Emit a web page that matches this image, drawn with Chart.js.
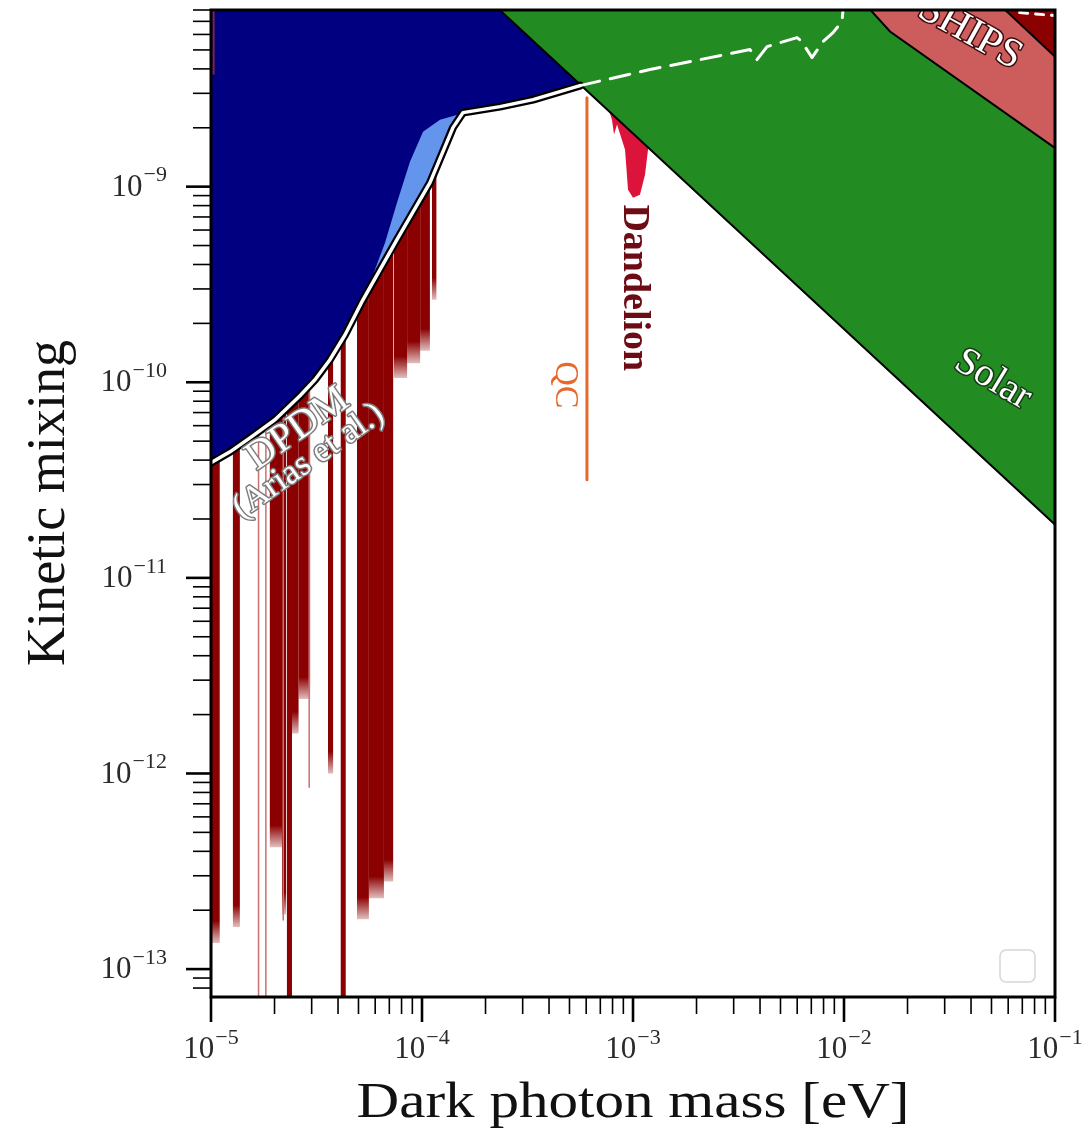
<!DOCTYPE html>
<html>
<head>
<meta charset="utf-8">
<title>Dark photon limits</title>
<script src="https://cdn.jsdelivr.net/npm/chart.js@4.4.1/dist/chart.umd.min.js"></script>
<style>
  html, body { margin: 0; padding: 0; background: #fff; }
  #chart { display: block; }
</style>
</head>
<body>
<canvas id="chart" width="1092" height="1128"></canvas>
<script>
// axis ranges (eV, dimensionless)
var massRange = [1e-5, 1e-1];
var mixingRange = [7.2e-14, 8.0e-9];
var massDecades = [-5, -4, -3, -2, -1];
var mixingDecades = [-13, -12, -11, -10, -9];

// DPDM relic bound (Arias et al.)
var dpdmMass   = [1e-5, 1.23e-5, 1.53e-5, 2.01e-5, 2.64e-5, 3.11e-5, 3.66e-5, 4.32e-5, 5.25e-5, 7.61e-5, 1.091e-4, 1.402e-4, 1.564e-4, 2.343e-4, 3.36e-4, 5.61e-4];
var dpdmMixing = [3.88e-11, 4.41e-11, 5.20e-11, 6.43e-11, 8.53e-11, 1.03e-10, 1.303e-10, 1.75e-10, 2.64e-10, 5.36e-10, 1.048e-9, 2.003e-9, 2.39e-9, 2.565e-9, 2.786e-9, 3.285e-9];

// dashed continuation of the DPDM bound
var dashMass   = [5.61e-4, 1.204e-3, 2.077e-3, 3.585e-3, 3.87e-3, 4.32e-3, 5.99e-3, 6.32e-3, 7.05e-3, 7.95e-3, 8.87e-3, 9.78e-3, 1.0e-2];
var dashMixing = [3.285e-9, 3.97e-9, 4.46e-9, 5.02e-9, 4.46e-9, 5.20e-9, 5.78e-9, 5.51e-9, 4.57e-9, 5.51e-9, 6.13e-9, 6.98e-9, 9.0e-9];
var dashTailMass   = [6.8e-2, 1.0e-1];
var dashTailMixing = [7.76e-9, 7.49e-9];

// extra DPDM sliver (light blue)
var sliverMass   = [5.86e-5, 6.68e-5, 7.61e-5, 8.77e-5, 1.011e-4, 1.217e-4, 1.434e-4, 1.564e-4, 1.402e-4, 1.091e-4, 7.61e-5, 5.86e-5];
var sliverMixing = [3.55e-10, 5.17e-10, 8.28e-10, 1.342e-9, 1.911e-9, 2.20e-9, 2.31e-9, 2.39e-9, 2.003e-9, 1.048e-9, 5.36e-10, 3.15e-10];

// solar emission bound, SHIPS and the top corner bound
var solarMass   = [0.2, 1.967e-4, 0.1634];
var solarMixing = [1e-7, 9.5e-9, 1.144e-11];
var shipsMass   = [0.2, 1.204e-2, 1.652e-2, 0.1634];
var shipsMixing = [1e-7, 9.05e-9, 6.21e-9, 1.086e-9];
var cornerMass   = [0.2, 5.14e-2, 0.1634];
var cornerMixing = [1e-7, 9.05e-9, 2.82e-9];

// Dandelion
var dandelionMass   = [7.29e-4, 7.95e-4, 8.13e-4, 8.40e-4, 8.49e-4, 9.17e-4, 9.47e-4, 1.0e-3, 1.079e-3, 1.14e-3, 1.178e-3, 1.23e-3];
var dandelionMixing = [2.95e-9, 2.2e-9, 1.845e-9, 2.08e-9, 2.08e-9, 1.546e-9, 9.65e-10, 8.78e-10, 9.1e-10, 1.152e-9, 1.546e-9, 2.48e-9];

// QC line
var qcMass   = [6.05e-4, 6.05e-4];
var qcMixing = [2.85e-9, 3.17e-11];

// haloscope exclusions: mass window and lowest excluded mixing
var haloLo    = [1.00e-5, 1.27e-5, 1.90e-5, 2.17e-5, 2.29e-5, 2.42e-5, 2.60e-5, 3.585e-5, 4.12e-5, 4.92e-5, 5.60e-5, 6.60e-5, 7.35e-5, 8.50e-5, 9.80e-5, 1.115e-4];
var haloHi    = [1.10e-5, 1.37e-5, 2.17e-5, 2.27e-5, 2.42e-5, 2.60e-5, 2.95e-5, 3.79e-5, 4.35e-5, 5.60e-5, 6.60e-5, 7.30e-5, 8.50e-5, 9.80e-5, 1.09e-4, 1.17e-4];
var haloFloor = [1.36e-13, 1.64e-13, 4.2e-13, 1.9e-13, 1e-14, 1.6e-12, 2.4e-12, 1.0e-12, 1e-14, 1.8e-13, 2.3e-13, 2.8e-13, 1.05e-10, 1.25e-10, 1.45e-10, 2.64e-10];
var faintMass  = [1.68e-5, 1.82e-5, 2.20e-5, 2.92e-5];
var faintFloor = [1e-14, 1e-14, 1.78e-13, 8.5e-13];
var cornerHaloLo = [1.015e-5], cornerHaloHi = [1.04e-5], cornerHaloFloor = [3.74e-9];

var SKY = 1e-8;

var regionLabels = [
  {text: 'SHIPS', mass: 3.96e-2, mixing: 6.1e-9, angle: 29, font: '41px "Liberation Serif"', fill: '#fff', stroke: '#3c0c0c'},
  {text: 'Solar', mass: 5.08e-2, mixing: 1.03e-10, angle: 31, font: '39px "Liberation Serif"', fill: '#fff', stroke: '#173a17'},
  {text: 'DPDM', mass: 2.58e-5, mixing: 5.78e-11, angle: -35, font: '40px "Liberation Serif"', fill: '#fff', stroke: '#7d7d7d'},
  {text: '(Arias et al.)', mass: 2.9e-5, mixing: 3.95e-11, angle: -35, font: '35px "Liberation Serif"', fill: '#fff', stroke: '#7d7d7d'},
  {text: 'QC', mass: 4.76e-4, mixing: 9.71e-11, angle: 90, font: '34px "Liberation Serif"', fill: '#e4692b'},
  {text: 'Dandelion', mass: 1.011e-3, mixing: 3.04e-10, angle: 90, font: 'bold 38px "Liberation Serif"', fill: '#6e0c16'}
];

function xy(xs, ys) {
  return xs.map(function (x, i) { return {x: x, y: ys[i]}; });
}

function band(lo, hi, floor) {
  return [{x: lo, y: SKY}, {x: hi, y: SKY}, {x: hi, y: floor}, {x: lo, y: floor}];
}

// dark red that thins out over the last few pixels above the floor
function fadeTo(floor) {
  return function (c) {
    var chart = c.chart;
    if (!chart.chartArea) return '#8b0000';
    var y = chart.scales.y.getPixelForValue(floor);
    var g = chart.ctx.createLinearGradient(0, y - 22, 0, y);
    g.addColorStop(0, 'rgba(139,0,0,1)');
    g.addColorStop(1, 'rgba(139,0,0,0.25)');
    return g;
  };
}

function area(data, color, order, edge) {
  return {
    data: data, fill: 'shape', backgroundColor: color,
    borderColor: edge || 'rgba(0,0,0,0)', borderWidth: edge ? 2 : 0,
    pointRadius: 0, order: order, clip: 0
  };
}

function curve(data, color, width, order, dash) {
  return {
    data: data, fill: false, borderColor: color, borderWidth: width,
    borderDash: dash || [], borderCapStyle: 'round', borderJoinStyle: 'round',
    pointRadius: 0, order: order, clip: 0
  };
}

var datasets = [];

// haloscope bands sit at the back, the DPDM region covers their tops
haloLo.forEach(function (lo, i) {
  datasets.push(area(band(lo, haloHi[i], haloFloor[i]), fadeTo(haloFloor[i]), 90));
});
faintMass.forEach(function (m, i) {
  datasets.push(curve([{x: m, y: SKY}, {x: m, y: faintFloor[i]}], '#c77272', 1.5, 89));
});

var dpdmFill = curve(xy(dpdmMass, dpdmMixing), 'rgba(0,0,0,0)', 0, 80);
dpdmFill.fill = 'end';
dpdmFill.backgroundColor = '#000080';
datasets.push(dpdmFill);

cornerHaloLo.forEach(function (lo, i) {
  datasets.push(area(band(lo, cornerHaloHi[i], cornerHaloFloor[i]), 'rgba(170,50,50,0.75)', 75));
});

datasets.push(area(xy(sliverMass, sliverMixing), '#6495ed', 70));
datasets.push(area(xy(dandelionMass, dandelionMixing), '#dc143c', 65));
datasets.push(curve(xy(qcMass, qcMixing), '#e4692b', 3, 64));
datasets.push(area(xy(solarMass, solarMixing), '#228b22', 60, '#000'));
datasets.push(area(xy(shipsMass, shipsMixing), '#cd5c5c', 55, '#000'));
datasets.push(area(xy(cornerMass, cornerMixing), '#8b0000', 50, '#000'));

// DPDM bound: white line with a black casing, dashed beyond the solar bound
datasets.push(curve(xy(dpdmMass, dpdmMixing), '#000', 8, 40));
datasets.push(curve(xy(dpdmMass, dpdmMixing), '#fff', 3.5, 39));
datasets.push(curve(xy(dashMass, dashMixing), '#fff', 3, 38, [20, 11]));
datasets.push(curve(xy(dashTailMass, dashTailMixing), '#fff', 3, 38, [8, 8]));

function drawPower(ctx, exp, x, y, align) {
  // "10" with a raised exponent
  var base = '10', sup = '\u2212' + Math.abs(exp);
  ctx.font = '31px "Liberation Serif"';
  var wb = ctx.measureText(base).width;
  ctx.font = '22px "Liberation Serif"';
  var ws = ctx.measureText(sup).width;
  var left = align === 'right' ? x - wb - ws - 1 : x - (wb + ws + 1) / 2;
  ctx.textAlign = 'left';
  ctx.textBaseline = 'middle';
  ctx.font = '31px "Liberation Serif"';
  ctx.fillText(base, left, y);
  ctx.font = '22px "Liberation Serif"';
  ctx.fillText(sup, left + wb + 1, y - 12);
}

function outlinedText(ctx, item, x, y) {
  ctx.save();
  ctx.translate(x, y);
  ctx.rotate(item.angle * Math.PI / 180);
  ctx.font = item.font;
  ctx.textAlign = 'center';
  ctx.textBaseline = 'middle';
  if (item.stroke) {
    ctx.lineWidth = 3;
    ctx.lineJoin = 'round';
    ctx.strokeStyle = item.stroke;
    ctx.strokeText(item.text, 0, 0);
  }
  ctx.fillStyle = item.fill;
  ctx.fillText(item.text, 0, 0);
  ctx.restore();
}

function fitText(ctx, text, x, y, width) {
  var w = ctx.measureText(text).width;
  ctx.save();
  ctx.translate(x, y);
  ctx.scale(width / w, 1);
  ctx.fillText(text, 0, 0);
  ctx.restore();
}

function logTicks(decades, min, max) {
  var out = [];
  decades.concat([decades[0] - 1]).forEach(function (e) {
    for (var k = 1; k <= 9; k++) {
      var v = k * Math.pow(10, e);
      if (v >= min * 0.9999 && v <= max * 1.0001) out.push({value: v, major: k === 1});
    }
  });
  return out;
}

var frame = {
  id: 'frame',
  afterDatasetsDraw: function (chart) {
    var ctx = chart.ctx, a = chart.chartArea;
    var sx = chart.scales.x, sy = chart.scales.y;

    ctx.save();
    ctx.beginPath();
    ctx.rect(a.left, a.top, a.right - a.left, a.bottom - a.top);
    ctx.clip();
    regionLabels.forEach(function (l) {
      outlinedText(ctx, l, sx.getPixelForValue(l.mass), sy.getPixelForValue(l.mixing));
    });
    ctx.restore();

    ctx.save();
    ctx.strokeStyle = '#000';
    ctx.lineCap = 'butt';

    logTicks(massDecades, massRange[0], massRange[1]).forEach(function (t) {
      var px = sx.getPixelForValue(t.value);
      ctx.lineWidth = t.major ? 2.6 : 1.6;
      ctx.beginPath();
      ctx.moveTo(px, a.bottom);
      ctx.lineTo(px, a.bottom + (t.major ? 25 : 17));
      ctx.stroke();
    });
    logTicks(mixingDecades, mixingRange[0], mixingRange[1]).forEach(function (t) {
      var py = sy.getPixelForValue(t.value);
      ctx.lineWidth = t.major ? 2.6 : 1.6;
      ctx.beginPath();
      ctx.moveTo(a.left, py);
      ctx.lineTo(a.left - (t.major ? 25 : 18), py);
      ctx.stroke();
    });

    ctx.lineWidth = 3;
    ctx.strokeRect(a.left, a.top, a.right - a.left, a.bottom - a.top);

    ctx.fillStyle = '#2a2a2a';
    massDecades.forEach(function (e) {
      drawPower(ctx, e, sx.getPixelForValue(Math.pow(10, e)), a.bottom + 53, 'center');
    });
    mixingDecades.forEach(function (e) {
      drawPower(ctx, e, a.left - 44, sy.getPixelForValue(Math.pow(10, e)) + 1, 'right');
    });

    ctx.fillStyle = '#111';
    ctx.textAlign = 'center';
    ctx.textBaseline = 'alphabetic';
    ctx.font = '50px "Liberation Serif"';
    fitText(ctx, 'Dark photon mass [eV]', (a.left + a.right) / 2, 1117, 553);
    ctx.save();
    ctx.translate(64, 503);
    ctx.rotate(-Math.PI / 2);
    ctx.font = '54px "Liberation Serif"';
    fitText(ctx, 'Kinetic mixing', 0, 0, 326);
    ctx.restore();

    // empty legend frame
    ctx.strokeStyle = '#d6d6d6';
    ctx.lineWidth = 1.5;
    ctx.beginPath();
    ctx.roundRect(a.right - 55, a.bottom - 47, 35, 32, 6);
    ctx.stroke();
    ctx.restore();
  }
};

new Chart(document.getElementById('chart'), {
  type: 'line',
  data: {datasets: datasets},
  options: {
    responsive: false,
    animation: false,
    layout: {padding: {left: 211, right: 37, top: 10, bottom: 131}},
    elements: {line: {tension: 0}, point: {radius: 0}},
    plugins: {legend: {display: false}, tooltip: {enabled: false}},
    scales: {
      x: {
        type: 'logarithmic', min: massRange[0], max: massRange[1], bounds: 'data',
        grid: {display: false}, border: {display: false}, ticks: {display: false},
        afterFit: function (s) { s.height = 0; }
      },
      y: {
        type: 'logarithmic', min: mixingRange[0], max: mixingRange[1], bounds: 'data',
        grid: {display: false}, border: {display: false}, ticks: {display: false},
        afterFit: function (s) { s.width = 0; }
      }
    }
  },
  plugins: [frame]
});
</script>
</body>
</html>
